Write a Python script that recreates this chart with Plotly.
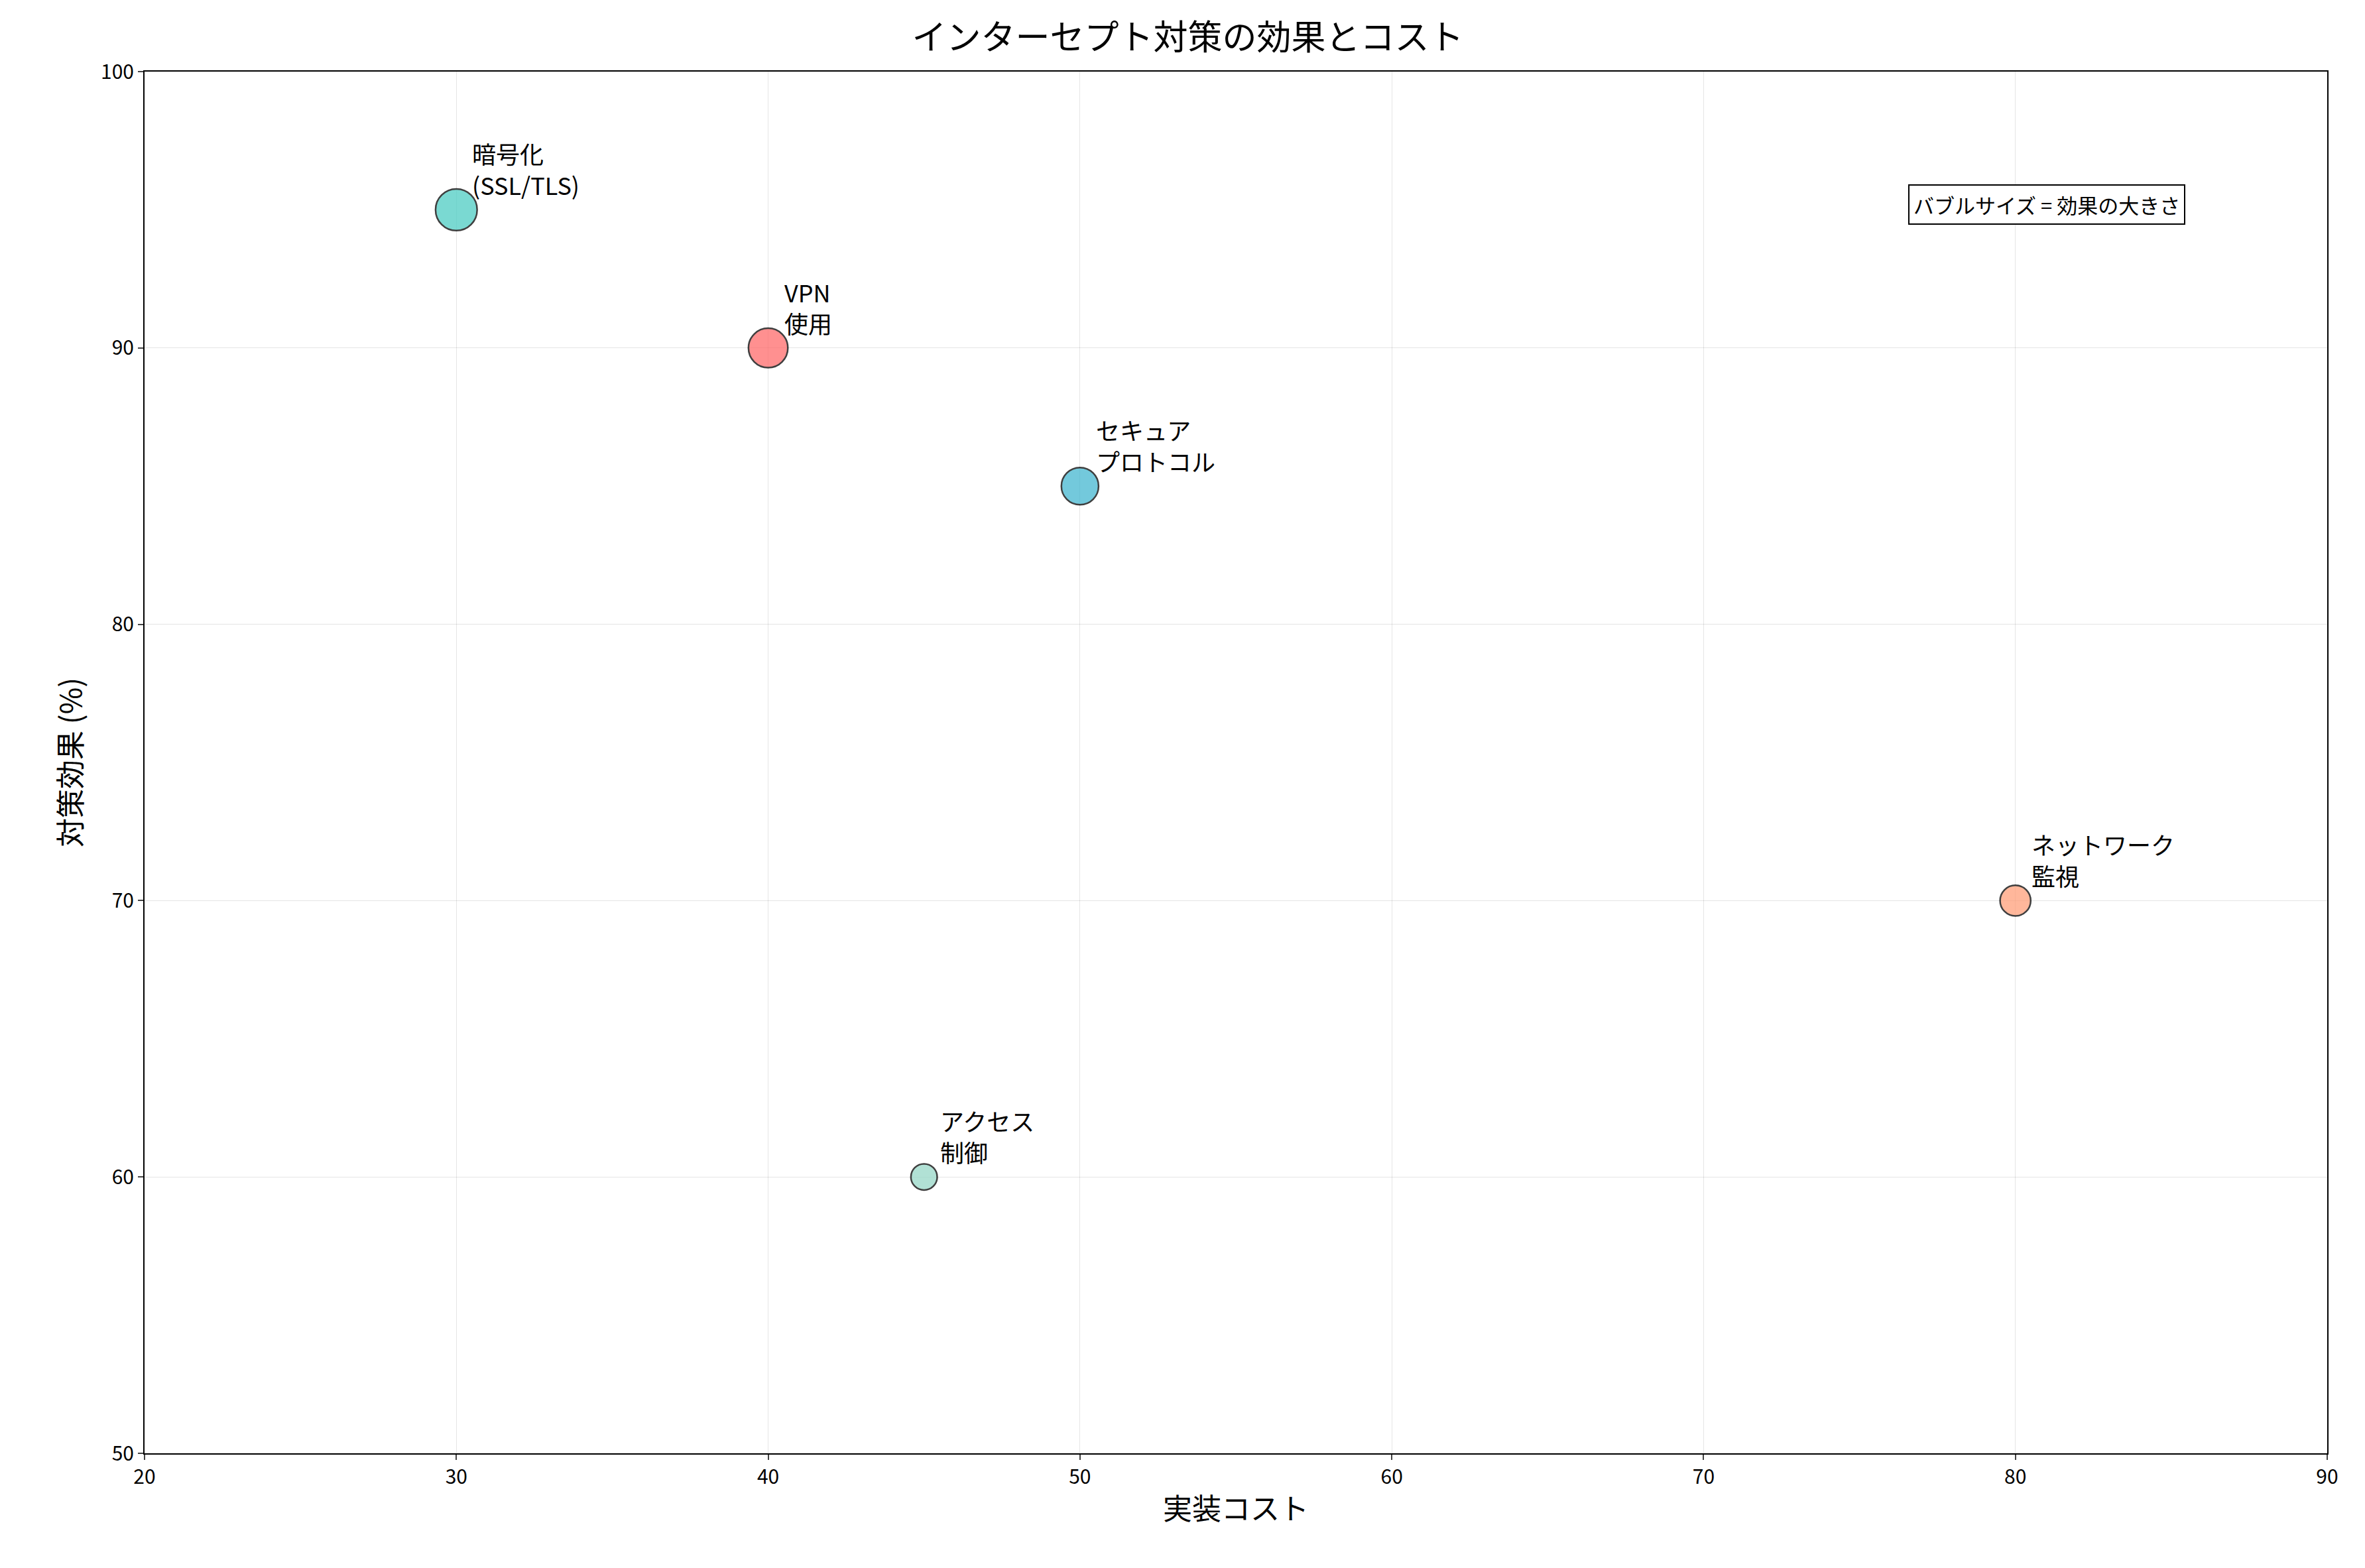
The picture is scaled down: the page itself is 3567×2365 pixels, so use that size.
import plotly.graph_objects as go

names = ["暗号化<br>(SSL/TLS)", "VPN<br>使用", "セキュア<br>プロトコル", "ネットワーク<br>監視", "アクセス<br>制御"]
cost = [30, 40, 50, 80, 45]
effect = [95, 90, 85, 70, 60]
colors = ["#4ECDC4", "#FF6B6B", "#45B7D1", "#FFA07A", "#98D8C8"]

font = "Noto Sans CJK JP"
fig = go.Figure()
fig.add_trace(go.Scatter(
    x=cost, y=effect, mode="markers",
    marker=dict(size=[e * 0.66 for e in effect], color=colors, opacity=0.75,
                line=dict(color="black", width=2.5)),
    showlegend=False,
))
for n, c, e in zip(names, cost, effect):
    fig.add_annotation(x=c, y=e, text=n, showarrow=False, xanchor="left", yanchor="bottom",
                       align="left", xshift=22, yshift=10, font=dict(size=36, color="black"))
fig.add_annotation(x=81, y=95.2, text="バブルサイズ = 効果の大きさ", showarrow=False,
                   font=dict(size=31, color="black"), bgcolor="white", bordercolor="black",
                   borderwidth=2, borderpad=6)

axis = dict(showgrid=True, gridcolor="rgba(0,0,0,0.1)", showline=True, linecolor="black",
            linewidth=2, mirror=True, ticks="outside", tickwidth=2, ticklen=8,
            tickfont=dict(size=30, color="black"), zeroline=False)
fig.update_xaxes(range=[20, 90], dtick=10, title=dict(text="実装コスト", font=dict(size=44)), **axis)
fig.update_yaxes(range=[50, 100], dtick=10, title=dict(text="対策効果 (%)", font=dict(size=44)), **axis)
fig.update_layout(
    width=3567, height=2365, plot_bgcolor="white", paper_bgcolor="white",
    font=dict(family=font, color="black"),
    title=dict(text="インターセプト対策の効果とコスト", x=0.5, xanchor="center", y=0.987,
               font=dict(size=52)),
    margin=dict(l=210, r=65, t=100, b=181),
)
fig.write_html("out.html")
